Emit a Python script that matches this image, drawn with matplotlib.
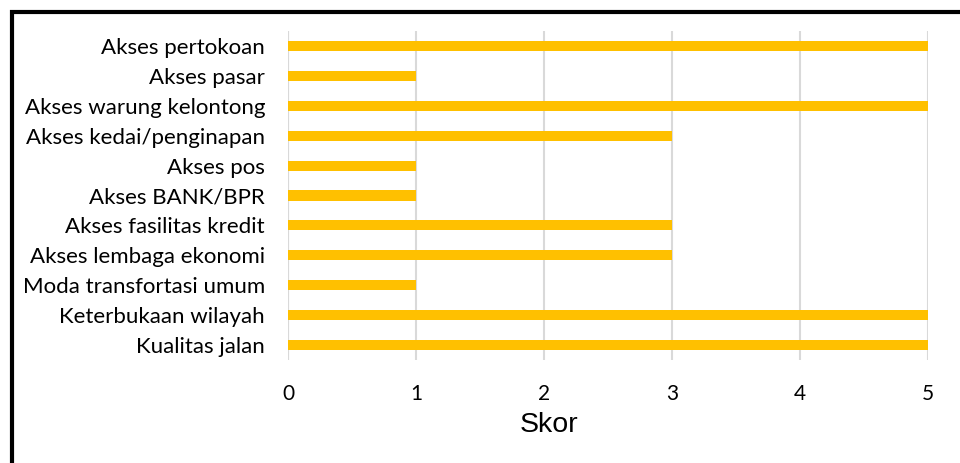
import matplotlib.pyplot as plt
from matplotlib.patches import Rectangle

# %% Datos
kategori = ['Akses pertokoan', 'Akses pasar', 'Akses warung kelontong',
            'Akses kedai/penginapan', 'Akses pos', 'Akses BANK/BPR',
            'Akses fasilitas kredit', 'Akses lembaga ekonomi',
            'Moda transfortasi umum', 'Keterbukaan wilayah', 'Kualitas jalan']
skor = [5, 1, 5, 3, 1, 1, 3, 3, 1, 5, 5]

# %% Grafico
fig = plt.figure(figsize=(9.6, 4.63), dpi=100)
ax = fig.add_axes([0.3, 0.2225, 0.6667, 0.7105])

pos = list(range(len(kategori)))
ax.barh(pos, skor, height=0.34, color='#FFC000', zorder=3)
ax.set_ylim(len(kategori) - 0.5, -0.5)
ax.set_xlim(0, 5)
ax.set_yticks(pos)
ax.set_yticklabels(kategori, fontsize=16, family='Lato')
ax.set_xticks(range(6))
ax.set_xticklabels([str(i) for i in range(6)], fontsize=15, family='Lato')
ax.tick_params(axis='y', length=0, pad=16.5)
ax.tick_params(axis='x', length=0, pad=17)
ax.grid(axis='x', color='#d9d9d9', linewidth=1.5, zorder=0)
for s in ax.spines.values():
    s.set_visible(False)
ax.axvline(0, color='#d9d9d9', linewidth=1.5, zorder=1)
ax.set_xlabel('Skor', fontsize=20.5, family='Liberation Sans')
ax.xaxis.set_label_coords((549 - 288) / 640, (360 - 412) / 329)

# marco negro
fig.patches.append(Rectangle((12 / 960, -0.1), 1.2, 1 - 12.5 / 463 + 0.1,
                             transform=fig.transFigure, fill=False,
                             edgecolor='black', linewidth=3))

fig.savefig('out.png', dpi=100)
